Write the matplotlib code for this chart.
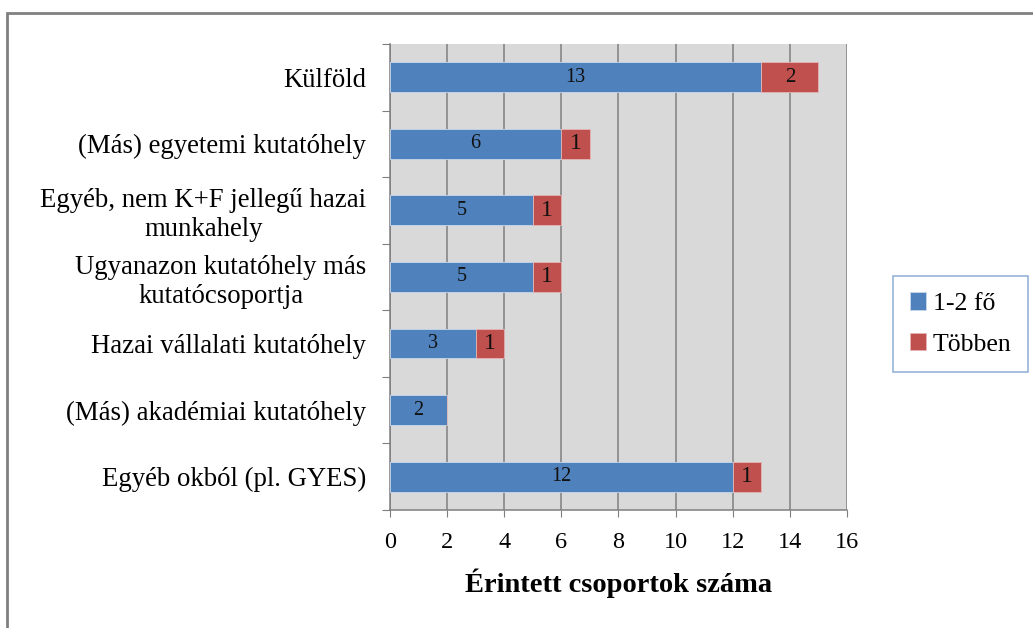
import matplotlib.pyplot as plt
import numpy as np
from matplotlib.patches import Rectangle

plt.rcParams["font.family"] = ["Liberation Serif", "DejaVu Serif"]

# ---- data (top to bottom as shown) ----
categories = [
    "Külföld",
    "(Más) egyetemi kutatóhely",
    "Egyéb, nem K+F jellegű hazai\nmunkahely",
    "Ugyanazon kutatóhely más\nkutatócsoportja",
    "Hazai vállalati kutatóhely",
    "(Más) akadémiai kutatóhely",
    "Egyéb okból (pl. GYES)",
]
small_groups = [13, 6, 5, 5, 3, 2, 12]   # 1-2 fő
large_groups = [2, 1, 1, 1, 1, 0, 1]     # Többen
series_names = ["1-2 fő", "Többen"]
x_ticks = list(range(0, 17, 2))

BLUE = "#4f81bd"
RED = "#c0504d"

fig = plt.figure(figsize=(10.33, 6.28), dpi=100)
ax = fig.add_axes([0.3775, 0.188, 0.4424, 0.742])
ax.set_facecolor("#d9d9d9")

y = np.arange(len(categories))[::-1]
h = 0.45
b1 = ax.barh(y, small_groups, height=h, color=BLUE, edgecolor="#c8d6ea", linewidth=0.6,
             label=series_names[0], zorder=3)
b2 = ax.barh(y, large_groups, left=small_groups, height=h, color=RED, edgecolor="#e3b6b5",
             linewidth=0.6, label=series_names[1], zorder=3)

for rect, v in zip(b1, small_groups):
    if v:
        ax.text(rect.get_x() + rect.get_width() / 2, rect.get_y() + h / 2, str(v),
                ha="center", va="center", fontsize=14.5, color="#111111", zorder=4)
for rect, v in zip(b2, large_groups):
    if v:
        ax.text(rect.get_x() + rect.get_width() / 2, rect.get_y() + h / 2, str(v),
                ha="center", va="center", fontsize=17 if v == 1 else 15,
                color="#111111", zorder=4)

ax.set_xlim(0, 16)
ax.set_ylim(-0.5, len(categories) - 0.5)
ax.set_xticks(x_ticks)
ax.xaxis.grid(True, color="#7f7f7f", linewidth=1.1, zorder=1)
ax.tick_params(axis="x", labelsize=17.5, length=5, color="#7f7f7f", pad=11)

# category ticks at boundaries, labels at centres
ax.set_yticks(np.arange(-0.5, len(categories), 1.0))
ax.set_yticklabels([])
ax.tick_params(axis="y", length=6, color="#7f7f7f")
ax.set_yticks(y, minor=True)
ax.set_yticklabels(categories, minor=True, fontsize=19.3, ha="right",
                   multialignment="center", linespacing=1.2)
ax.tick_params(axis="y", which="minor", length=0, pad=17)

for s in ["top", "right"]:
    ax.spines[s].set_visible(False)
for s in ["left", "bottom"]:
    ax.spines[s].set_color("#7f7f7f")
    ax.spines[s].set_linewidth(1.1)

ax.set_xlabel("Érintett csoportok száma", fontsize=20.5, fontweight="bold", labelpad=11)

leg = fig.legend(handles=[b1, b2], labels=series_names, loc="center left",
                 bbox_to_anchor=(893 / 1033, 1 - 324 / 628), borderaxespad=0,
                 fontsize=18.5, frameon=True, fancybox=False,
                 handlelength=0.65, handleheight=0.65, handletextpad=0.25,
                 labelspacing=0.7, borderpad=0.65)
leg.get_frame().set_edgecolor("#7f9fd0")
leg.get_frame().set_linewidth(1.2)

# outer chart frame (cropped at right and bottom)
fig.add_artist(Rectangle((7 / 1033, -0.05), 1.1, 1 - 13 / 628 + 0.05,
                         transform=fig.transFigure, fill=False,
                         edgecolor="#808080", linewidth=2))

fig.savefig("out.png", dpi=100)
